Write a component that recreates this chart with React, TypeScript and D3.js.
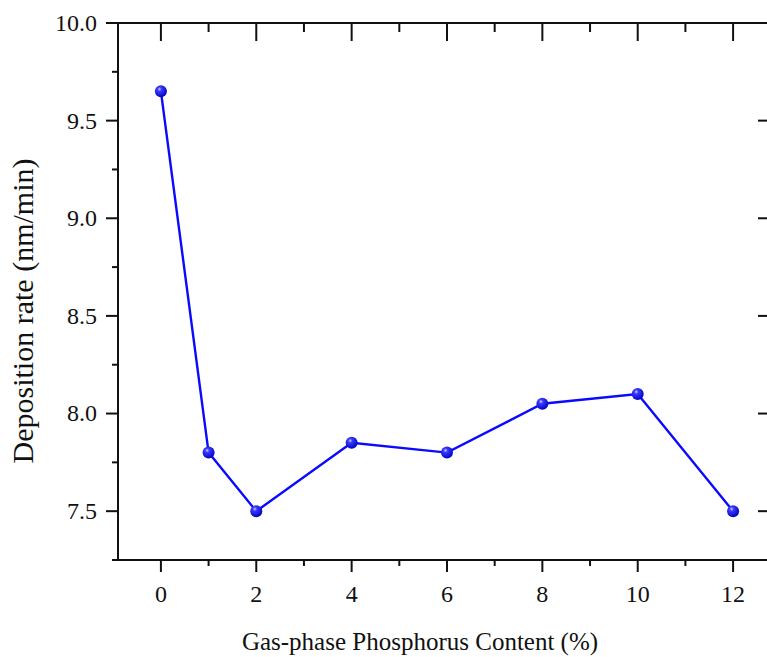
import React from "react";
import * as d3 from "d3";

const phosphorus = [0, 1, 2, 4, 6, 8, 10, 12];
const depositionRate = [9.65, 7.8, 7.5, 7.85, 7.8, 8.05, 8.1, 7.5];
const xMajorTicks = [0, 2, 4, 6, 8, 10, 12];
const xMinorTicks = [1, 3, 5, 7, 9, 11];
const yMajorTicks = [7.5, 8.0, 8.5, 9.0, 9.5, 10.0];
const yMinorTicks = [7.25, 7.75, 8.25, 8.75, 9.25, 9.75];

const W = 767;
const H = 657;
const L = 118;
const R = 776;
const T = 23;
const B = 560;

export default function App() {
  const x = d3.scaleLinear().domain([-0.9, 12.9]).range([L, R]);
  const y = d3.scaleLinear().domain([7.25, 10.0]).range([B, T]);
  const pts = phosphorus.map((p, i) => [p, depositionRate[i]] as [number, number]);
  const line = d3
    .line<[number, number]>()
    .x((d) => x(d[0]))
    .y((d) => y(d[1]));
  const ink = "#111";
  const font = "'Liberation Serif', 'Times New Roman', serif";
  return (
    <svg
      width={W}
      height={H}
      style={{ position: "absolute", left: 0, top: 0, background: "#fff" }}
    >
      <defs>
        <radialGradient id="ball" cx="0.38" cy="0.32" r="0.7">
          <stop offset="0" stopColor="#d0d0ff" />
          <stop offset="0.25" stopColor="#3a3aff" />
          <stop offset="1" stopColor="#0000c0" />
        </radialGradient>
      </defs>
      <rect x={0} y={0} width={W} height={H} fill="#fff" />
      {/* frame */}
      <line x1={L} x2={L} y1={T} y2={B} stroke={ink} strokeWidth={2} />
      <line x1={L} x2={R} y1={B} y2={B} stroke={ink} strokeWidth={2} />
      <line x1={L} x2={R} y1={T} y2={T} stroke={ink} strokeWidth={2} />
      <line x1={R} x2={R} y1={T} y2={B} stroke={ink} strokeWidth={2} />
      {/* left ticks outward */}
      {yMajorTicks.map((t) => (
        <line key={"lm" + t} x1={L - 12} x2={L} y1={y(t)} y2={y(t)} stroke={ink} strokeWidth={2} />
      ))}
      {yMinorTicks.map((t) => (
        <line key={"ln" + t} x1={L - 6} x2={L} y1={y(t)} y2={y(t)} stroke={ink} strokeWidth={2} />
      ))}
      {/* right ticks inward */}
      {yMajorTicks.map((t) => (
        <line key={"rm" + t} x1={R - 18} x2={R} y1={y(t)} y2={y(t)} stroke={ink} strokeWidth={2} />
      ))}
      {yMinorTicks.map((t) => (
        <line key={"rn" + t} x1={R - 9} x2={R} y1={y(t)} y2={y(t)} stroke={ink} strokeWidth={2} />
      ))}
      {/* bottom ticks outward */}
      {xMajorTicks.map((t) => (
        <line key={"bm" + t} x1={x(t)} x2={x(t)} y1={B} y2={B + 12} stroke={ink} strokeWidth={2} />
      ))}
      {xMinorTicks.map((t) => (
        <line key={"bn" + t} x1={x(t)} x2={x(t)} y1={B} y2={B + 6} stroke={ink} strokeWidth={2} />
      ))}
      {/* top ticks inward */}
      {xMajorTicks.map((t) => (
        <line key={"tm" + t} x1={x(t)} x2={x(t)} y1={T} y2={T + 18} stroke={ink} strokeWidth={2} />
      ))}
      {xMinorTicks.map((t) => (
        <line key={"tn" + t} x1={x(t)} x2={x(t)} y1={T} y2={T + 9} stroke={ink} strokeWidth={2} />
      ))}
      {/* tick labels */}
      {yMajorTicks.map((t) => (
        <text
          key={"yl" + t}
          x={L - 21}
          y={y(t)}
          dy="0.33em"
          textAnchor="end"
          fontFamily={font}
          fontSize={24}
          fill={ink}
        >
          {t.toFixed(1)}
        </text>
      ))}
      {xMajorTicks.map((t) => (
        <text
          key={"xl" + t}
          x={x(t)}
          y={602}
          textAnchor="middle"
          fontFamily={font}
          fontSize={24}
          fill={ink}
        >
          {t}
        </text>
      ))}
      {/* axis titles */}
      <text
        x={420}
        y={650}
        textAnchor="middle"
        fontFamily={font}
        fontSize={25}
        fill={ink}
      >
        Gas-phase Phosphorus Content (%)
      </text>
      <text
        transform={`translate(33, 311) rotate(-90)`}
        textAnchor="middle"
        fontFamily={font}
        fontSize={30}
        fill={ink}
      >
        Deposition rate (nm/min)
      </text>
      {/* series */}
      <path d={line(pts) || ""} fill="none" stroke="#0a0aff" strokeWidth={2.4} />
      {pts.map((d, i) => (
        <circle key={"p" + i} cx={x(d[0])} cy={y(d[1])} r={6} fill="url(#ball)" />
      ))}
    </svg>
  );
}
